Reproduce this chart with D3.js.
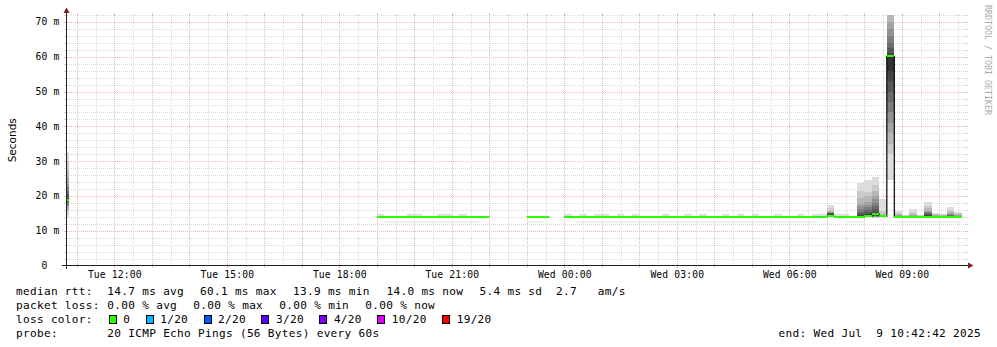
<!DOCTYPE html>
<html>
<head>
<meta charset="utf-8">
<script src="https://cdn.jsdelivr.net/npm/d3@7"></script>
<style>
  body { margin: 0; background: #fff; }
  svg text { font-family: "DejaVu Sans Mono", monospace; fill: #000; white-space: pre; }
  .legend text { font-size: 11.1px; letter-spacing: 0.3px; }
  .tick-label { font-size: 9.7px; letter-spacing: 0.15px; }
</style>
</head>
<body>
<div id="chart"></div>
<script>
// ---- data (12 minute bins, start time of each bin) ----
const binTime = [
  "2025-07-08T10:36",
  "2025-07-08T19:00", "2025-07-08T19:12", "2025-07-08T19:24", "2025-07-08T19:36", "2025-07-08T19:48",
  "2025-07-08T20:00", "2025-07-08T20:12", "2025-07-08T20:24", "2025-07-08T20:36", "2025-07-08T20:48",
  "2025-07-08T21:00", "2025-07-08T21:12", "2025-07-08T21:24", "2025-07-08T21:36", "2025-07-08T21:48",
  "2025-07-08T23:00", "2025-07-08T23:12", "2025-07-08T23:24",
  "2025-07-09T00:00", "2025-07-09T00:12", "2025-07-09T00:24", "2025-07-09T00:36", "2025-07-09T00:48",
  "2025-07-09T01:00", "2025-07-09T01:12", "2025-07-09T01:24", "2025-07-09T01:36", "2025-07-09T01:48",
  "2025-07-09T02:00", "2025-07-09T02:12", "2025-07-09T02:24", "2025-07-09T02:36", "2025-07-09T02:48",
  "2025-07-09T03:00", "2025-07-09T03:12", "2025-07-09T03:24", "2025-07-09T03:36", "2025-07-09T03:48",
  "2025-07-09T04:00", "2025-07-09T04:12", "2025-07-09T04:24", "2025-07-09T04:36", "2025-07-09T04:48",
  "2025-07-09T05:00", "2025-07-09T05:12", "2025-07-09T05:24", "2025-07-09T05:36", "2025-07-09T05:48",
  "2025-07-09T06:00", "2025-07-09T06:12", "2025-07-09T06:24", "2025-07-09T06:36", "2025-07-09T06:48",
  "2025-07-09T07:00", "2025-07-09T07:12", "2025-07-09T07:24", "2025-07-09T07:36", "2025-07-09T07:48",
  "2025-07-09T08:00", "2025-07-09T08:12", "2025-07-09T08:24", "2025-07-09T08:36", "2025-07-09T08:48",
  "2025-07-09T09:00", "2025-07-09T09:12", "2025-07-09T09:24", "2025-07-09T09:36", "2025-07-09T09:48",
  "2025-07-09T10:00", "2025-07-09T10:12", "2025-07-09T10:24"
];

// median rtt per bin (ms)
const medianMs = [
  18.9,
  14.0, 14.0, 13.9, 14.0, 14.0,  14.0, 13.9, 14.0, 14.0, 14.0,  14.0, 13.9, 14.0, 14.0, 14.0,
  14.0, 14.0, 14.0,
  14.0, 14.0, 14.0, 13.9, 14.0,  14.0, 14.0, 14.0, 14.0, 13.9,  14.0, 14.0, 14.0, 14.0, 14.0,
  13.9, 14.0, 14.0, 14.0, 14.0,  14.0, 14.0, 13.9, 14.0, 14.0,  14.0, 14.0, 14.0, 14.0, 14.0,
  14.0, 13.9, 14.0, 14.0, 14.0,  14.1, 14.0, 14.0, 14.0, 14.0,  14.1, 14.8, 14.1, 60.1, 14.0,
  14.0, 14.0, 14.0, 14.0, 14.0,  14.0, 14.0, 14.0
];

// lost pings (of 20) per bin
const lossPings = [
  0,
  0, 0, 0, 0, 0, 0, 0, 0, 0, 0, 0, 0, 0, 0, 0,
  0, 0, 0,
  0, 0, 0, 0, 0, 0, 0, 0, 0, 0, 0, 0, 0, 0, 0, 0, 0, 0, 0, 0, 0, 0, 0, 0, 0, 0, 0, 0, 0, 0,
  0, 0, 0, 0, 0, 0, 0, 0, 0, 0, 0, 0, 0, 0, 0, 0, 0, 0, 0, 0, 0, 0, 0, 0
];

// sorted ping rtts per bin (ms), outermost pairs first; inner pings of calm bins sit under the median
const smokeMs = [
  [14.0, 15.0, 16.0, 16.5, 17.0, 17.5, 18.0, 18.5, 18.8, 18.9, 19.0, 19.5, 20.5, 21.5, 22.5, 23.5, 25.5, 27.5, 30.0, 32.5],
  [13.9, 14.7], [13.9, 14.2], [13.9, 14.2], [13.9, 14.2], [13.9, 14.7],
  [13.9, 14.7], [13.9, 14.2], [13.9, 14.2], [13.9, 14.7], [13.9, 14.7],
  [13.9, 14.2], [13.9, 14.7], [13.9, 14.2], [13.9, 14.2], [13.9, 14.2],
  [13.9, 14.2], [13.9, 14.2], [13.9, 14.2],
  [13.9, 14.7], [13.9, 14.2], [13.9, 14.7], [13.9, 14.2], [13.9, 14.7],
  [13.9, 14.7], [13.9, 14.2], [13.9, 14.7], [13.9, 14.2], [13.9, 14.7],
  [13.9, 14.2], [13.9, 14.2], [13.9, 14.2], [13.9, 14.7], [13.9, 14.2],
  [13.9, 14.2], [13.9, 14.7], [13.9, 14.2], [13.9, 14.7], [13.9, 14.2],
  [13.9, 14.2], [13.9, 14.7], [13.9, 14.2], [13.9, 14.7], [13.9, 14.2],
  [13.9, 14.7], [13.9, 14.2], [13.9, 14.2], [13.9, 14.7], [13.9, 14.2],
  [13.9, 14.2], [13.9, 14.7], [13.9, 14.2], [13.9, 14.7], [13.9, 14.7],
  [13.8, 13.9, 13.9, 14.0, 14.0, 14.0, 14.0, 14.0, 14.1, 14.1, 14.5, 14.8, 15.0, 15.1, 15.2, 15.3, 15.4, 15.8, 16.6, 17.5],
  [13.9, 14.7], [13.9, 14.7], [13.6, 14.3],
  [13.8, 13.9, 13.9, 13.9, 14.0, 14.0, 14.0, 14.0, 14.0, 14.0, 14.2, 14.5, 15.0, 15.5, 16.2, 17.0, 17.8, 19.4, 21.5, 23.8],
  [13.8, 13.9, 13.9, 14.0, 14.0, 14.0, 14.0, 14.0, 14.1, 14.1, 14.3, 14.8, 15.3, 16.0, 16.8, 17.5, 18.2, 20.0, 21.0, 24.5],
  [13.6, 13.7, 13.8, 13.9, 14.0, 14.1, 14.2, 14.3, 14.5, 14.7, 15.0, 15.5, 16.2, 17.0, 18.0, 19.0, 20.0, 21.5, 23.0, 25.4],
  [13.9, 13.9, 14.0, 14.0, 14.0, 14.0, 14.1, 14.1, 14.1, 14.1, 14.2, 14.2, 14.3, 14.3, 14.4, 14.5, 14.6, 14.9, 15.6, 19.0],
  [24.5, 32.0, 35.0, 38.0, 41.0, 44.0, 47.0, 50.0, 53.0, 56.0, 60.3, 61.0, 62.5, 64.0, 66.0, 68.0, 70.0, 74.0, 78.0, 85.0],
  [13.7, 13.8, 13.9, 13.9, 14.0, 14.0, 14.0, 14.0, 14.0, 14.0, 14.0, 14.1, 14.1, 14.2, 14.2, 14.3, 14.4, 14.8, 15.2, 15.8],
  [13.6, 13.8, 13.9, 13.9, 13.9, 14.0, 14.0, 14.0, 14.0, 14.0, 14.0, 14.0, 14.1, 14.1, 14.1, 14.2, 14.2, 14.3, 14.4, 14.6],
  [13.8, 13.9, 13.9, 13.9, 14.0, 14.0, 14.0, 14.0, 14.0, 14.0, 14.0, 14.1, 14.1, 14.2, 14.2, 14.3, 14.5, 14.9, 15.5, 16.1],
  [13.6, 13.8, 13.9, 13.9, 13.9, 14.0, 14.0, 14.0, 14.0, 14.0, 14.0, 14.0, 14.1, 14.1, 14.1, 14.2, 14.2, 14.3, 14.4, 14.5],
  [13.8, 13.9, 13.9, 14.0, 14.0, 14.0, 14.0, 14.0, 14.0, 14.0, 14.3, 14.6, 14.9, 15.1, 15.3, 15.5, 15.7, 16.4, 17.2, 18.2],
  [13.9, 13.9, 13.9, 14.0, 14.0, 14.0, 14.0, 14.0, 14.0, 14.0, 14.0, 14.1, 14.1, 14.2, 14.2, 14.3, 14.4, 14.6, 14.9, 15.2],
  [13.9, 13.9, 13.9, 14.0, 14.0, 14.0, 14.0, 14.0, 14.0, 14.0, 14.0, 14.1, 14.1, 14.1, 14.2, 14.2, 14.3, 14.5, 14.7, 14.9],
  [13.9, 13.9, 13.9, 14.0, 14.0, 14.0, 14.0, 14.0, 14.0, 14.0, 14.1, 14.2, 14.3, 14.4, 14.6, 14.8, 15.0, 15.4, 16.0, 16.8],
  [13.9, 13.9, 13.9, 14.0, 14.0, 14.0, 14.0, 14.0, 14.0, 14.0, 14.0, 14.1, 14.1, 14.2, 14.2, 14.3, 14.5, 14.8, 15.1, 15.5]
];

const yTicks = [0, 10, 20, 30, 40, 50, 60, 70];
const yTickLabels = ["0", "10 m", "20 m", "30 m", "40 m", "50 m", "60 m", "70 m"];

const rttLegend = ["median rtt:", "14.7 ms avg", "60.1 ms max", "13.9 ms min", "14.0 ms now", "5.4 ms sd", "2.7   am/s"];
const lossLegend = ["packet loss:", "0.00 % avg", "0.00 % max", "0.00 % min", "0.00 % now"];
const lossColorLabels = ["0", "1/20", "2/20", "3/20", "4/20", "10/20", "19/20"];
const lossColorSteps = [1, 2, 3, 4, 10, 19];
const lossColors = ["#26ff00", "#00b8ff", "#0059ff", "#5e00ff", "#7e00ff", "#dd00ff", "#ff0000"];
const probeLegend = ["probe:", "20 ICMP Echo Pings (56 Bytes) every 60s"];
const endLabel = "end: Wed Jul  9 10:42:42 2025";

const rangeStart = new Date(2025, 6, 8, 10, 42, 42);
const rangeEnd = new Date(2025, 6, 9, 10, 42, 42);
const binMinutes = 12;
const yMax = 72;

// ---- layout ----
const W = 997, H = 347;
const plot = { left: 66, right: 966, top: 15, bottom: 265.5 };

const parseTime = d3.timeParse("%Y-%m-%dT%H:%M");
const x = d3.scaleTime().domain([rangeStart, rangeEnd]).range([plot.left, plot.right]);
const y = d3.scaleLinear().domain([0, yMax]).range([plot.bottom, plot.top]);
const lossColor = d3.scaleThreshold().domain(lossColorSteps).range(lossColors);

const svg = d3.select("#chart").append("svg")
  .attr("width", W).attr("height", H);
svg.append("rect").attr("width", W).attr("height", H).attr("fill", "#fff");

svg.append("defs").append("clipPath").attr("id", "plot-clip")
  .append("rect")
  .attr("x", plot.left).attr("y", plot.top)
  .attr("width", plot.right - plot.left).attr("height", plot.bottom - plot.top);

// ---- grid ----
const grid = svg.append("g").attr("class", "grid").attr("shape-rendering", "crispEdges");
const minorColor = "#dadada", majorColor = "#efb9b9";

const yMinor = d3.range(2, yMax + 0.1, 2).filter(v => v % 10 !== 0);
const yMajor = yTicks.filter(v => v > 0);
function hLines(values, color) {
  values.forEach(v => {
    const yy = Math.round(y(v)) + 0.5;
    grid.append("line").attr("x1", plot.left + 1).attr("x2", plot.right)
      .attr("y1", yy).attr("y2", yy)
      .attr("stroke", color).attr("stroke-dasharray", "1,1");
    grid.append("line").attr("x1", plot.left - 2).attr("x2", plot.left + 1)
      .attr("y1", yy).attr("y2", yy).attr("stroke", color);
    grid.append("line").attr("x1", plot.right).attr("x2", plot.right + 2)
      .attr("y1", yy).attr("y2", yy).attr("stroke", color);
  });
}
hLines(yMinor, minorColor);
hLines(yMajor, majorColor);

const halfHours = d3.timeMinute.every(30).range(rangeStart, rangeEnd);
const xMinor = halfHours.filter(t => t.getMinutes() !== 0);
const xMajor = d3.timeHour.range(rangeStart, rangeEnd);
function vLines(values, color, stub) {
  values.forEach(t => {
    const xx = Math.round(x(t)) + 0.5;
    grid.append("line").attr("x1", xx).attr("x2", xx)
      .attr("y1", plot.top).attr("y2", plot.bottom)
      .attr("stroke", color).attr("stroke-dasharray", "1,1");
    grid.append("line").attr("x1", xx).attr("x2", xx)
      .attr("y1", plot.top - stub).attr("y2", plot.top)
      .attr("stroke", color);
    grid.append("line").attr("x1", xx).attr("x2", xx)
      .attr("y1", plot.bottom - stub).attr("y2", plot.bottom + stub)
      .attr("stroke", color);
  });
}
vLines(xMinor, minorColor, 1);
vLines(xMajor, majorColor, 2);

// ---- bins ----
const bins = binTime.map((t, i) => {
  const t0 = parseTime(t);
  const t1 = d3.timeMinute.offset(t0, binMinutes);
  return {
    t0, t1,
    x0: Math.max(x(t0), plot.left + 1),
    x1: Math.min(x(t1), plot.right),
    median: medianMs[i],
    pings: smokeMs[i],
    loss: lossPings[i]
  };
});

const marks = svg.append("g").attr("clip-path", "url(#plot-clip)");

// smoke: pair ping k with ping n-1-k, outer pairs light, inner pairs dark
const smoke = marks.append("g").attr("class", "smoke").attr("shape-rendering", "crispEdges");
bins.forEach(b => {
  const n = b.pings.length;
  for (let k = 0; k < Math.floor(n / 2); k++) {
    const lo = b.pings[k], hi = b.pings[n - 1 - k];
    const g = Math.round(190 / 10 * (10 - (k + 1))) + 50;
    smoke.append("rect")
      .attr("x", b.x0).attr("width", b.x1 - b.x0)
      .attr("y", y(hi)).attr("height", Math.max(0, y(lo) - y(hi)))
      .attr("fill", d3.rgb(g, g, g));
  }
});

// median as a step line
const stepPoints = [];
bins.forEach((b, i) => {
  stepPoints.push({ x: b.x0, v: b.median });
  const next = bins[i + 1];
  if (!next || +next.t0 !== +b.t1) {
    stepPoints.push({ x: b.x1, v: b.median });
    stepPoints.push({ x: b.x1, v: null });
  }
});
const stepLine = d3.line()
  .defined(d => d.v !== null)
  .x(d => d.x).y(d => y(d.v))
  .curve(d3.curveStepAfter);
marks.append("path")
  .attr("d", stepLine(stepPoints))
  .attr("fill", "none").attr("stroke", "#000").attr("stroke-width", 1.2);

// median coloured by loss
marks.append("g").attr("class", "median").attr("shape-rendering", "crispEdges")
  .selectAll("rect").data(bins).join("rect")
  .attr("x", d => d.x0).attr("width", d => d.x1 - d.x0)
  .attr("y", d => y(d.median) - 1).attr("height", 2)
  .attr("fill", d => lossColor(d.loss));

// ---- axes ----
const axis = svg.append("g").attr("class", "axes").attr("shape-rendering", "crispEdges");
axis.append("line").attr("x1", plot.left - 4).attr("x2", plot.right + 2)
  .attr("y1", plot.bottom).attr("y2", plot.bottom).attr("stroke", "#1f1f1f");
axis.append("line").attr("x1", plot.left + 0.5).attr("x2", plot.left + 0.5)
  .attr("y1", plot.bottom + 3).attr("y2", plot.top - 3).attr("stroke", "#1f1f1f");
svg.append("path")
  .attr("d", d3.line()([[plot.right + 2, plot.bottom - 3], [plot.right + 7.5, plot.bottom], [plot.right + 2, plot.bottom + 3]]))
  .attr("fill", "#7f1f1f");
svg.append("path")
  .attr("d", d3.line()([[plot.left - 2.5, plot.top - 2], [plot.left + 0.5, plot.top - 7.5], [plot.left + 3.5, plot.top - 2]]))
  .attr("fill", "#7f1f1f");

// y tick labels
svg.append("g").selectAll("text").data(yTicks).join("text")
  .attr("class", "tick-label")
  .attr("x", 59.5)
  .attr("y", d => y(d) + 3.5)
  .attr("text-anchor", "end")
  .text((d, i) => yTickLabels[i].includes(" ") ? yTickLabels[i] : yTickLabels[i] + "  ");

// x tick labels every 3 hours
const xLabels = d3.timeHour.every(3).range(rangeStart, rangeEnd);
const fmt = d3.timeFormat("%a %H:%M");
svg.append("g").selectAll("text").data(xLabels).join("text")
  .attr("class", "tick-label")
  .attr("x", d => x(d) + 0.5)
  .attr("y", 277.5)
  .attr("text-anchor", "middle")
  .text(d => fmt(d));

// vertical unit label
svg.append("text")
  .attr("transform", "translate(15.5," + ((plot.top + plot.bottom) / 2) + ") rotate(-90)")
  .attr("text-anchor", "middle")
  .style("font-family", "'DejaVu Sans', sans-serif")
  .style("font-size", "10.5px")
  .text("Seconds");

// watermark
svg.append("text")
  .attr("transform", "translate(984.5,5) rotate(90)")
  .style("font-size", "8.3px")
  .style("fill", "#aaaaaa")
  .text("RRDTOOL / TOBI OETIKER");

// ---- legend ----
const legend = svg.append("g").attr("class", "legend");
const rttX = [16, 107.3, 200, 293, 386.5, 479.5, 556];
legend.append("g").selectAll("text").data(rttLegend).join("text")
  .attr("x", (d, i) => rttX[i]).attr("y", 295).text(d => d);

const lossX = [16, 107.3, 193.3, 279.3, 365.3];
legend.append("g").selectAll("text").data(lossLegend).join("text")
  .attr("x", (d, i) => lossX[i]).attr("y", 309).text(d => d);

legend.append("text").attr("x", 16).attr("y", 323).text("loss color:");
let bx = 108.7;
lossColorLabels.forEach((lab, i) => {
  legend.append("rect")
    .attr("x", Math.round(bx) + 0.5).attr("y", 315.5)
    .attr("width", 7).attr("height", 8)
    .attr("fill", lossColors[i]).attr("stroke", "#000")
    .attr("shape-rendering", "crispEdges");
  legend.append("text").attr("x", bx + 14.6).attr("y", 323).text(lab);
  bx += 14.6 + lab.length * 7 + 15.3;
});

legend.append("g").selectAll("text").data(probeLegend).join("text")
  .attr("x", (d, i) => [16, 107.3][i]).attr("y", 337).text(d => d);
legend.append("text").attr("x", 981).attr("y", 337)
  .attr("text-anchor", "end").text(endLabel);
</script>
</body>
</html>
